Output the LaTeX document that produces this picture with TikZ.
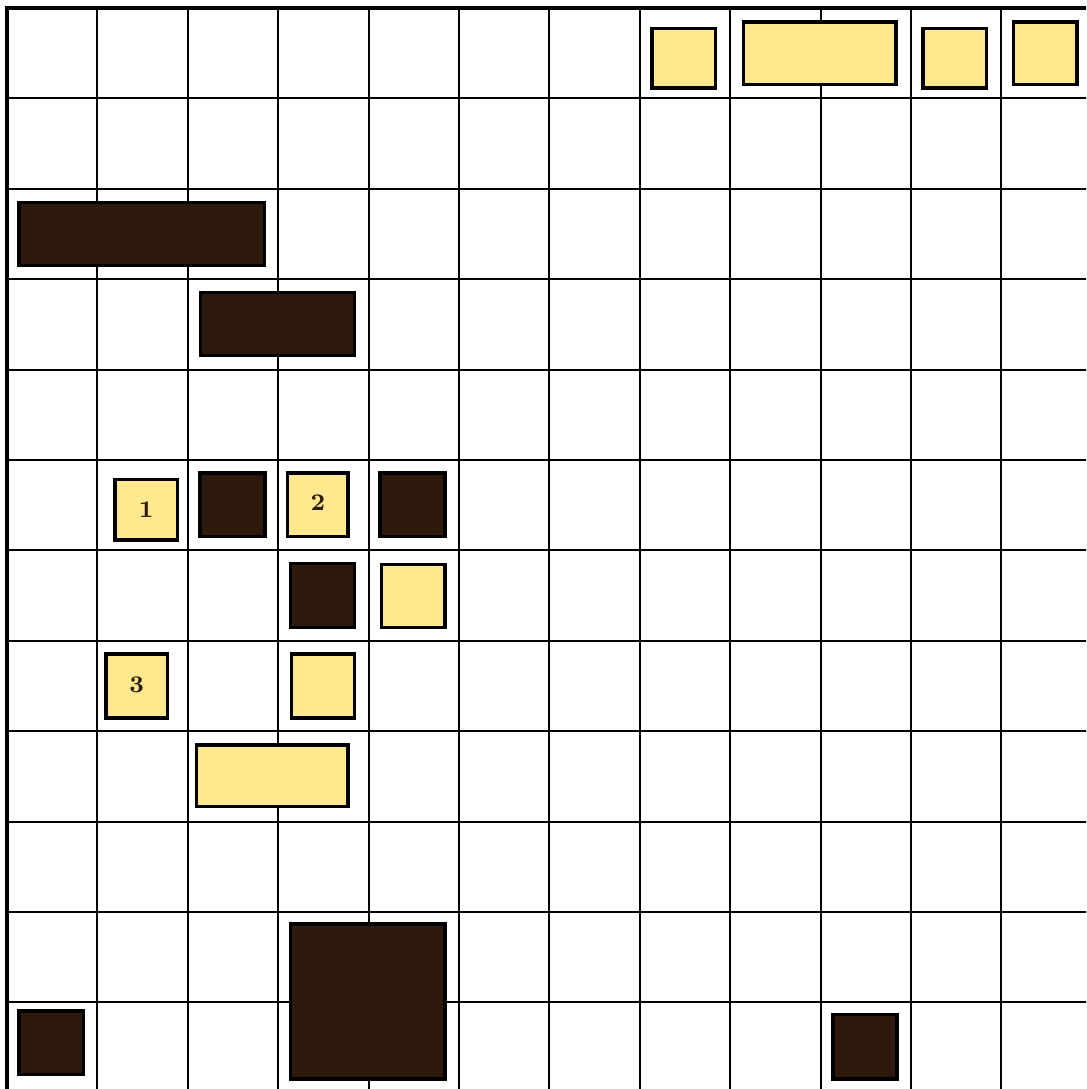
\documentclass[tikz,border=0pt]{standalone}
\usepackage{tikz}
\definecolor{tile}{HTML}{2D1A0C}
\definecolor{sand}{HTML}{FFE98F}
\tikzset{dk/.style={fill=tile,draw=black,line width=1.1pt},
	lt/.style={fill=sand,draw=black,line width=1.1pt},
	num/.style={font=\bfseries\fontsize{7.5}{9}\selectfont,text=tile,inner sep=0pt}}

\begin{document}
\begin{tikzpicture}[y=-1cm]
	\def\n{11}
	\useasboundingbox (-0.077,-0.088) rectangle (11.936,11.958);
	\clip (-0.077,-0.088) rectangle (11.936,11.958);
	% grid
	\foreach \i in {1,...,\n}{
		\draw[line width=0.6pt] (\i,0) -- (\i,12);
		\draw[line width=0.6pt] (0,\i) -- (12,\i);
	}
	\draw[line width=1.2pt] (0,12) -- (0,0) -- (12,0);
	% dark tiles
	\foreach \xa/\ya/\xb/\yb in {0.135/2.15/2.85/2.85, 2.14/3.145/3.845/3.845,
		2.135/5.145/2.855/5.845, 4.125/5.145/4.845/5.845, 3.135/6.145/3.845/6.855,
		0.135/11.095/0.845/11.795, 3.135/10.135/4.845/11.845, 9.135/11.135/9.845/11.845}
	\draw[dk] (\xa,\ya) rectangle (\xb,\yb);
	% light tiles
	\foreach \xa/\ya/\xb/\yb in {7.135/0.225/7.835/0.885, 8.145/0.155/9.835/0.845,
		10.135/0.225/10.835/0.885, 11.135/0.155/11.835/0.845,
		1.195/5.215/1.885/5.885, 3.105/5.145/3.775/5.845, 4.145/6.155/4.845/6.855,
		1.095/7.145/1.775/7.855, 3.145/7.145/3.845/7.855, 2.095/8.155/3.775/8.835}
	\draw[lt] (\xa,\ya) rectangle (\xb,\yb);
	% numbers
	\node[num] (one) at (1.54,5.55) {1};
	\node[num] (two) at (3.44,5.47) {2};
	\node[num] (three) at (1.435,7.49) {3};
\end{tikzpicture}
\end{document}
